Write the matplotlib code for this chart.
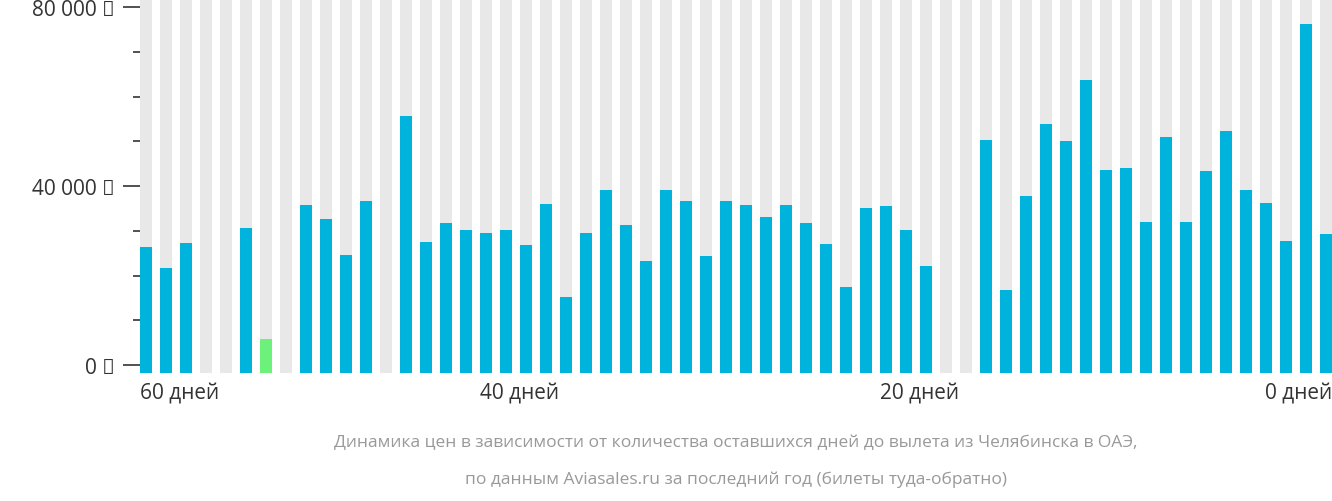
import matplotlib.pyplot as plt

# days before departure, left to right (59 .. 0)
days = list(range(59, -1, -1))
prices = [28200, 23500, 29000, 0, 0, 32400, 7600, 0, 37500, 34400,
          26400, 38400, 0, 57400, 29300, 33500, 32000, 31300, 32000, 28600,
          37800, 17000, 31300, 40900, 33100, 25000, 40900, 38400, 26100, 38400,
          37500, 34900, 37500, 33500, 28800, 19200, 36900, 37300, 32000, 23900,
          0, 0, 52100, 18500, 39600, 55600, 51800, 65500, 45400, 45800,
          33700, 52700, 33700, 45100, 54100, 40900, 38000, 29500, 78000, 31100]
cheapest_day = 53
x_labels = ["60 дней", "40 дней", "20 дней", "0 дней"]
x_label_pos = [59.3, 40.3, 20.3, -0.3]
y_ticks = [0, 40000, 80000]
y_tick_labels = ["0 ₽", "40 000 ₽", "80 000 ₽"]

plt.rcParams["font.family"] = "Open Sans"
fig = plt.figure(figsize=(13.32, 5.02), dpi=100)
ax = fig.add_axes([140 / 1332, 128 / 502, 1 - 140 / 1332, 374 / 502])

ymin, ymax = -1790, 81800
ax.bar(days, [ymax - ymin] * len(days), bottom=ymin, width=0.6, color="#e8e8e8", zorder=1)
colors = ["#6cf27a" if d == cheapest_day else "#00b3dd" for d in days]
ax.bar(days, prices, bottom=ymin, width=0.6, color=colors, zorder=2)
ax.bar(days, [-ymin] * len(days), bottom=ymin, width=0.6,
       color=["#e8e8e8" if p == 0 else c for p, c in zip(prices, colors)], zorder=2)

ax.set_xlim(59.3, -0.3)
ax.set_ylim(ymin, ymax)
for s in ax.spines.values():
    s.set_visible(False)
ax.set_xticks([])
ax.set_yticks(y_ticks)
ax.set_yticklabels(y_tick_labels, fontsize=15, color="#333333")
ax.set_yticks(range(10000, 80000, 10000), minor=True)
ax.tick_params(axis="y", which="major", length=12, width=1.2, color="#333333", pad=6)
ax.tick_params(axis="y", which="minor", length=5, width=1.2, color="#333333")

aligns = ["left", "center", "center", "right"]
for lab, pos, ha in zip(x_labels, x_label_pos, aligns):
    ax.text(pos, -0.025, lab, transform=ax.get_xaxis_transform(), ha=ha, va="top",
            fontsize=15, color="#333333")

fig.text(736 / 1332, 1 - 443 / 502,
         "Динамика цен в зависимости от количества оставшихся дней до вылета из Челябинска в ОАЭ,",
         ha="center", va="center", fontsize=12.5, color="#999999")
fig.text(736 / 1332, 1 - 480 / 502,
         "по данным Aviasales.ru за последний год (билеты туда-обратно)",
         ha="center", va="center", fontsize=12.5, color="#999999")

fig.savefig("out.png", dpi=100)
